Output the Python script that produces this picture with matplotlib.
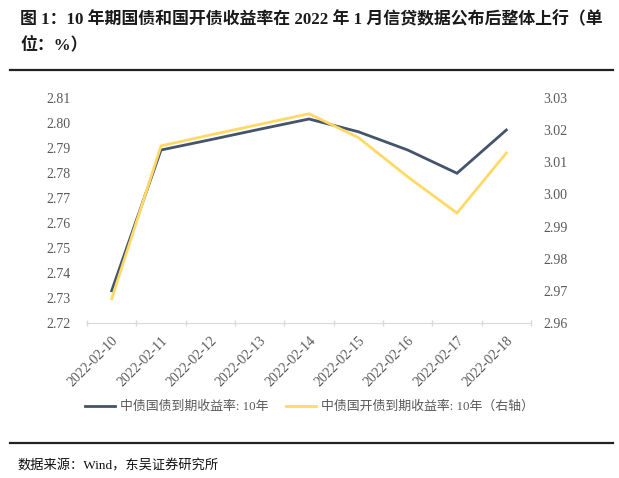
import matplotlib.pyplot as plt
from matplotlib.lines import Line2D
import numpy as np

plt.rcParams['font.family'] = ['Liberation Serif', 'Noto Sans CJK SC']

dates = ["2022-02-10", "2022-02-11", "2022-02-12", "2022-02-13", "2022-02-14",
         "2022-02-15", "2022-02-16", "2022-02-17", "2022-02-18"]
gov_10y = [2.7329, 2.7892, 2.7933, 2.7975, 2.8016, 2.7965, 2.7892, 2.7799, 2.7972]
cdb_10y = [2.9675, 3.0151, 3.0185, 3.0218, 3.0251, 3.0177, 3.0055, 2.9942, 3.0129]
left_ticks = [2.72, 2.73, 2.74, 2.75, 2.76, 2.77, 2.78, 2.79, 2.80, 2.81]
right_ticks = [2.96, 2.97, 2.98, 2.99, 3.00, 3.01, 3.02, 3.03]

title = "图 1：10 年期国债和国开债收益率在 2022 年 1 月信贷数据公布后整体上行（单\n位：%）"
source = "数据来源：Wind，东吴证券研究所"
label_gov = "中债国债到期收益率: 10年"
label_cdb = "中债国开债到期收益率: 10年（右轴）"

dark = "#44546A"
yellow = "#FFD966"
grey = "#595959"

fig = plt.figure(figsize=(6.19, 4.78), dpi=100)
ax = fig.add_axes([87 / 619, 155 / 478, 444 / 619, 225 / 478])
ax2 = ax.twinx()

x = np.arange(len(dates))
l1, = ax.plot(x, gov_10y, color=dark, lw=2.0, solid_joinstyle='miter')
l2, = ax2.plot(x, cdb_10y, color=yellow, lw=2.0, solid_joinstyle='miter')

ax.set_xlim(-0.5, len(dates) - 0.5)
ax.set_ylim(2.72, 2.81)
ax2.set_ylim(2.96, 3.03)
ax.set_yticks(left_ticks)
ax.set_yticklabels([f"{v:.2f}" for v in left_ticks])
ax2.set_yticks(right_ticks)
ax2.set_yticklabels([f"{v:.2f}" for v in right_ticks])

# category boundaries get the tick marks, labels sit at the centres
ax.set_xticks(np.arange(len(dates) + 1) - 0.5)
ax.set_xticklabels([])
ax.set_xticks(x, minor=True)
ax.set_xticklabels(dates, minor=True, rotation=45, ha='right', va='top',
                   rotation_mode='anchor', fontsize=10, color=grey)
ax.tick_params(axis='x', which='major', direction='inout', length=5, color='#D9D9D9', width=1)
ax.tick_params(axis='x', which='minor', length=0, pad=8)
ax.tick_params(axis='y', length=0, labelsize=10, labelcolor=grey, pad=12)
ax2.tick_params(axis='y', length=0, labelsize=10, labelcolor=grey, pad=9)

for a in (ax, ax2):
    for s in ('top', 'left', 'right'):
        a.spines[s].set_visible(False)
ax.spines['bottom'].set_color('#D9D9D9')
ax2.spines['bottom'].set_visible(False)

fig.legend([l1, l2], [label_gov, label_cdb], loc='center', bbox_to_anchor=(0.5, 71 / 478),
           ncol=2, frameon=False, fontsize=9.3, handlelength=2.3, columnspacing=1.4,
           handletextpad=0.4, labelcolor=grey)

fig.text(20 / 619, 1 - 12 / 478, title, ha='left', va='top', fontsize=12.2,
         fontweight='bold', color='#1a1a1a', linespacing=1.6)
fig.add_artist(Line2D([10 / 619, 613 / 619], [1 - 70 / 478] * 2, color='#222222', lw=1.6))
fig.add_artist(Line2D([10 / 619, 613 / 619], [1 - 443 / 478] * 2, color='#222222', lw=1.6))
fig.text(17 / 619, 1 - 466 / 478, source, ha='left', va='center', fontsize=9.5, color='#111111')

fig.savefig("out.png", dpi=100)
